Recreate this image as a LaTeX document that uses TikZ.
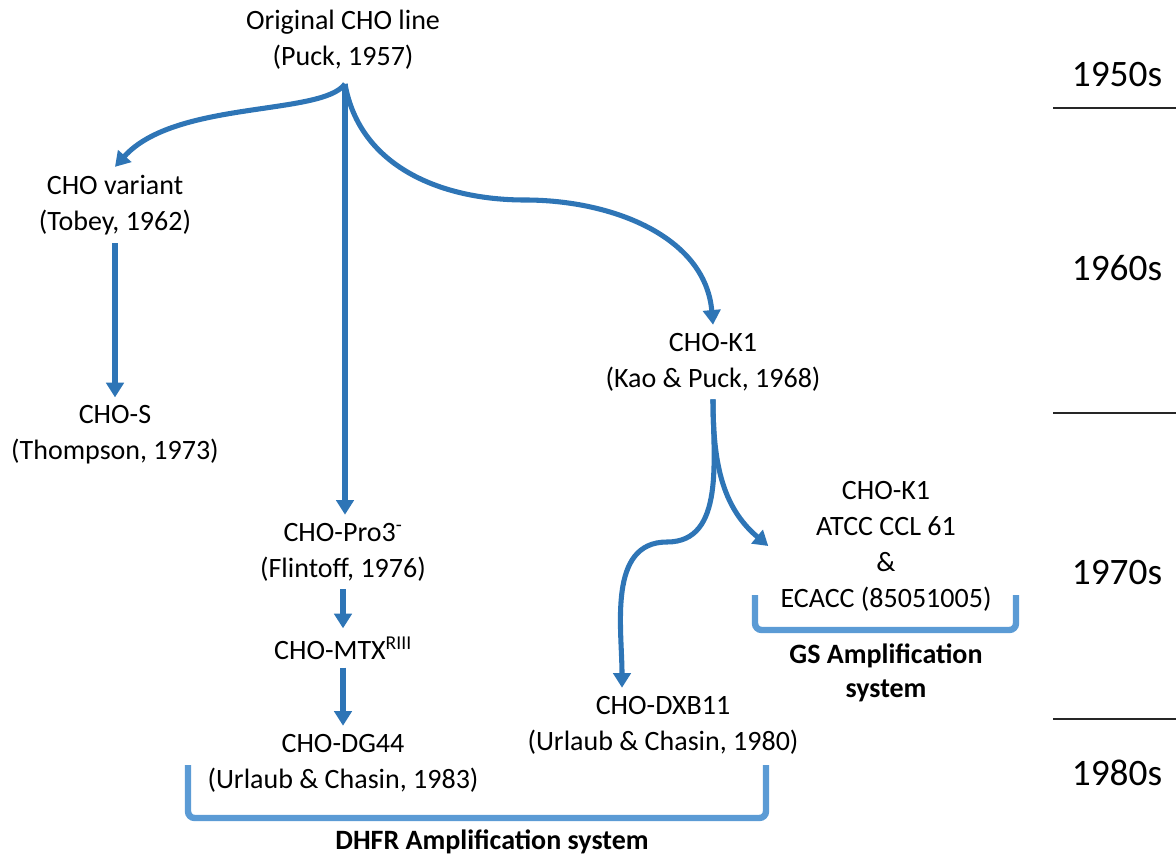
\documentclass[tikz,border=0pt]{standalone}
\usepackage{fontspec}
\setmainfont{Carlito}
\usetikzlibrary{arrows.meta,calc}
\definecolor{arrowblue}{HTML}{2E75B6}
\definecolor{bracketblue}{HTML}{5B9BD5}
\begin{document}
\begin{tikzpicture}[x=0.75pt,y=-0.75pt,
  every node/.style={font=\fontsize{21}{27}\selectfont,align=center,inner sep=6pt},
  lineage/.style={line width=3.8pt,arrowblue,-{Triangle[width=13pt,length=11pt]}},
  bracket/.style={line width=4.8pt,bracketblue,rounded corners=5pt},
  decade/.style={font=\fontsize{28}{34}\selectfont},
  system/.style={font=\fontsize{21}{25}\selectfont\bfseries}]
\useasboundingbox (0,0) rectangle (1176,859);
% cell lines
\node (orig) at (343,40) {Original CHO line\\(Puck, 1957)};
\node (variant) at (115,205) {CHO variant\\(Tobey, 1962)};
\node (chos) at (115,435) {CHO-S\\(Thompson, 1973)};
\node (pro3) at (343,552) {CHO-Pro3\textsuperscript{-}\\(Flintoff, 1976)};
\node (mtx) at (343,648) {CHO-MTX\textsuperscript{RIII}};
\node (dg44) at (343,763) {CHO-DG44\\(Urlaub \& Chasin, 1983)};
\node (k1) at (713,362) {CHO-K1\\(Kao \& Puck, 1968)};
\node (dxb) at (663,725) {CHO-DXB11\\(Urlaub \& Chasin, 1980)};
\node (atcc) at (886,546) {CHO-K1\\ATCC CCL 61\\\&\\ECACC (85051005)};
% arrows
\coordinate (fork) at ($(orig.south)+(2,6)$);
\coordinate (dip) at (525,200);
\draw[lineage] (fork) .. controls (322,116) and (175,100) .. (variant.north);
\draw[lineage] (fork) -- (fork |- pro3.north);
\draw[lineage] (fork) to[out=-80,in=180] (dip) to[out=0,in=95] (k1.north);
\draw[lineage] (variant) -- (chos);
\draw[lineage] (pro3) -- (mtx);
\draw[lineage] (mtx) -- (dg44);
\coordinate (kfork) at (k1.south);
\coordinate (kbend) at (667,542);
\draw[lineage] (kfork) to[out=-90,in=0] (kbend) to[out=180,in=90] ($(dxb.north)+(-41,0)$);
\draw[lineage] (kfork) to[out=-90,in=140] ($(atcc.west)+(-4,0)$);
% amplification systems
\draw[bracket] (755,595) -- (755,630) -- (1016,630) -- (1016,595);
\node[system] (gs) at (886,673) {GS Amplification\\system};
\draw[bracket] (188,765) -- (188,818) -- (766,818) -- (766,765);
\node[system] (dhfr) at (492,842) {DHFR Amplification system};
% decades
\node[decade] (d50) at (1117,75) {1950s};
\node[decade] (d60) at (1117,268) {1960s};
\node[decade] (d70) at (1117,573) {1970s};
\node[decade] (d80) at (1117,773) {1980s};
\draw[line width=1.4pt,black!85] (1053,108) -- (1176,108);
\draw[line width=1.4pt,black!85] (1053,413) -- (1176,413);
\draw[line width=1.4pt,black!85] (1053,719) -- (1176,719);
\end{tikzpicture}
\end{document}
